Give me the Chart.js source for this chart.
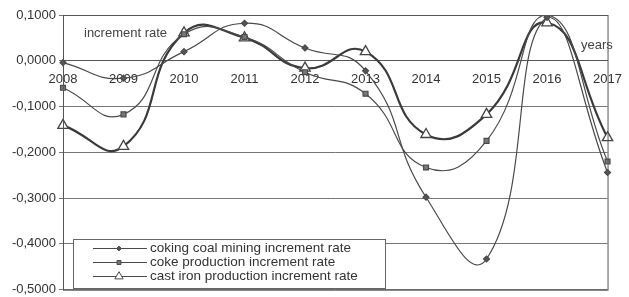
<!DOCTYPE html>
<html><head><meta charset="utf-8">
<script src="https://cdn.jsdelivr.net/npm/chart.js@4/dist/chart.umd.min.js"></script>
<style>html,body{margin:0;padding:0;background:#fff;}#wrap{width:629px;height:297px;position:relative;}</style>
</head><body><div id="wrap"><canvas id="c" width="629" height="297"></canvas></div>
<script>
const years = ["2008","2009","2010","2011","2012","2013","2014","2015","2016","2017"];
const cokingCoal = [-0.004, -0.038, 0.020, 0.082, 0.028, -0.022, -0.298, -0.433, 0.095, -0.244];
const coke = [-0.059, -0.117, 0.058, 0.052, -0.025, -0.072, -0.233, -0.175, 0.100, -0.220];
const castIron = [-0.141, -0.187, 0.061, 0.050, -0.016, 0.020, -0.161, -0.117, 0.083, -0.168];
const seriesNames = ["coking coal mining increment rate","coke production increment rate","cast iron production increment rate"];
const yTicks = [0.1, 0, -0.1, -0.2, -0.3, -0.4, -0.5];

const fmt = v => (v < 0 ? "-" : "") + Math.abs(v).toFixed(4).replace(".", ",");
const lineCol = "#4a4a4a";
const font = "Arial, 'Liberation Sans', sans-serif";

const extras = {
  id: "extras",
  afterDraw(chart) {
    const {ctx, chartArea: a} = chart;
    ctx.save();
    ctx.strokeStyle = "#555";
    ctx.lineWidth = 1;
    ctx.strokeRect(a.left + 0.5, a.top + 0.5, a.right - a.left, a.bottom - a.top);
    // axis titles
    ctx.fillStyle = "#444";
    ctx.font = "13px " + font;
    ctx.textBaseline = "middle";
    ctx.textAlign = "left";
    ctx.fillText("increment rate", 84, 33);
    ctx.fillText("years", 581, 45);
    // legend
    const lx = 73, ly = 239, lw = 312, lh = 49;
    ctx.fillStyle = "#fff";
    ctx.fillRect(lx, ly, lw, lh);
    ctx.strokeStyle = "#666";
    ctx.strokeRect(lx + 0.5, ly + 0.5, lw, lh);
    const rows = [248, 262, 276];
    chart.data.datasets.forEach((ds, i) => {
      const y = rows[i];
      ctx.strokeStyle = lineCol;
      ctx.lineWidth = 1.2;
      ctx.beginPath(); ctx.moveTo(93, y + 0.5); ctx.lineTo(147, y + 0.5); ctx.stroke();
      ctx.fillStyle = ds.pointBackgroundColor;
      ctx.strokeStyle = lineCol;
      ctx.lineWidth = 1;
      Chart.helpers.drawPoint(ctx, {pointStyle: ds.pointStyle, radius: ds.pointRadius * 0.8, borderWidth: 1}, 119, y + 0.5);
      ctx.fillStyle = "#333";
      ctx.font = "13.5px " + font;
      ctx.textAlign = "left";
      ctx.fillText(ds.label, 150, y);
    });
    ctx.restore();
  }
};

new Chart(document.getElementById("c"), {
  type: "line",
  data: {
    labels: years,
    datasets: [
      {label: seriesNames[0], data: cokingCoal, borderColor: lineCol, borderWidth: 1.2, tension: 0.5,
       pointStyle: "rectRot", pointRadius: 3, pointBackgroundColor: "#555", pointBorderColor: lineCol},
      {label: seriesNames[1], data: coke, borderColor: lineCol, borderWidth: 1.2, tension: 0.5,
       pointStyle: "rect", pointRadius: 3.5, pointBackgroundColor: "#777", pointBorderColor: lineCol},
      {label: seriesNames[2], data: castIron, borderColor: "#3a3a3a", borderWidth: 2.2, tension: 0.5,
       pointStyle: "triangle", pointRadius: 6, pointBackgroundColor: "#fff", pointBorderColor: "#444", pointBorderWidth: 1.3}
    ]
  },
  options: {
    responsive: false,
    animation: false,
    layout: {padding: {top: 15, right: 17, bottom: 0, left: 0}},
    plugins: {legend: {display: false}, tooltip: {enabled: false}},
    scales: {
      x: {
        position: {y: 0},
        offset: false,
        grid: {display: false, drawTicks: true, tickLength: 4},
        border: {color: "#555", width: 1},
        ticks: {color: "#333", font: {size: 13, family: font}, maxRotation: 0, autoSkip: false, padding: 7}
      },
      y: {
        min: -0.5, max: 0.1,
        afterBuildTicks: s => { s.ticks = yTicks.map(v => ({value: v})); },
        afterFit: s => { s.width = 63; },
        grid: {color: "#777", lineWidth: 1, drawTicks: true, tickLength: 4},
        border: {color: "#555"},
        ticks: {color: "#333", font: {size: 13, family: font, lineHeight: 0.6}, padding: 3, callback: v => fmt(v)}
      }
    }
  },
  plugins: [extras]
});
</script></body></html>
